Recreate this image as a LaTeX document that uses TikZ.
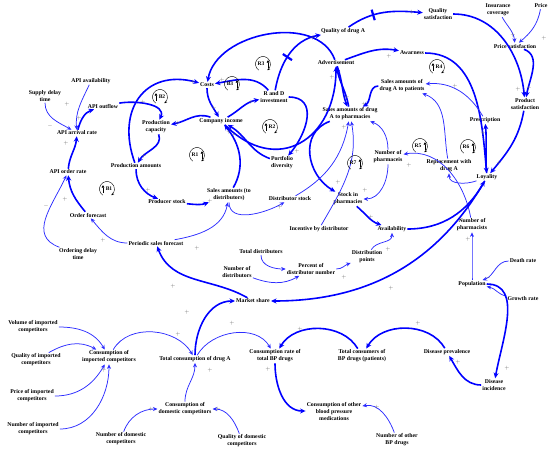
\documentclass[tikz,border=0pt]{standalone}
\usepackage{fontspec}
\setmainfont{Liberation Serif}
\usetikzlibrary{arrows.meta}
\definecolor{lnk}{RGB}{0,0,255}
\definecolor{lnkthin}{RGB}{45,45,255}
\definecolor{sgncol}{RGB}{100,100,100}

\begin{document}
\begin{tikzpicture}[x=1pt,y=1pt,
  v/.style={font=\fontsize{5.8}{7}\selectfont\bfseries,align=center,inner sep=1pt},
  thk/.style={draw=lnk,line width=1.6pt,-{Stealth[length=5.5pt,width=5pt]}},
  thn/.style={draw=lnkthin,line width=0.75pt,-{Stealth[length=4.5pt,width=4pt]}},
  sgn/.style={text=sgncol,font=\fontsize{5}{5}\selectfont,inner sep=0pt},
  lpl/.style={font=\fontsize{5.5}{6}\selectfont\bfseries,inner sep=0pt},
  dlybar/.style={fill=lnk,inner sep=0pt,minimum width=2.2pt,minimum height=11pt,sloped}]
  \useasboundingbox (0,0) rectangle (550,-451);
  % API and production (left)
  \node[v] (sdt) at (45,-96) {Supply delay\\time};
  \node[v] (apiav) at (91,-81) {API availability};
  \node[v] (apiout) at (103,-106) {API outflow};
  \node[v] (apiarr) at (77,-133) {API arrival rate};
  \node[v] (apiord) at (68,-172) {API order rate};
  \node[v] (ordfc) at (88,-215) {Order forecast};
  \node[v] (orddel) at (78,-254) {Ordering delay\\time};
  \node[v] (psf) at (156,-243) {Periodic sales forecast};
  \node[v] (prodcap) at (156,-127) {Production\\capacity};
  \node[v] (prodam) at (136,-166) {Production amounts};
  \node[v] (prodst) at (167,-202) {Producer stock};
  % company
  \node[v] (costs) at (207,-85) {Costs};
  \node[v] (income) at (221,-121) {Company income};
  \node[v] (rnd) at (274,-97) {R and D\\investment};
  \node[v] (portf) at (282,-163) {Portfolio\\diversity};
  \node[v] (salesd) at (229,-195) {Sales amounts (to\\distributors)};
  \node[v] (diststock) at (290,-199) {Distributor stock};
  % market side (top right)
  \node[v] (qual) at (343,-31) {Quality of drug A};
  \node[v] (adv) at (336,-63) {Advertisement};
  \node[v] (qsat) at (438,-14) {Quality\\satisfaction};
  \node[v] (ins) at (498,-10) {Insurance\\coverage};
  \node[v] (price) at (541,-6) {Price};
  \node[v] (psat) at (515,-46) {Price satisfaction};
  \node[v] (aware) at (412,-53) {Awarness};
  \node[v] (prodsat) at (525,-104) {Product\\satisfaction};
  \node[v] (salespat) at (402,-86) {Sales amounts of\\drug A to patients};
  \node[v] (salesph) at (350,-114) {Sales amounts of drug\\A to pharmacies};
  \node[v] (presc) at (485,-120) {Prescription};
  \node[v] (npharm) at (388,-157) {Number of\\pharmaceis};
  \node[v] (repl) at (449,-166) {Replacement with\\drug A};
  \node[v] (loyal) at (487,-177) {Loyality};
  \node[v] (stockph) at (348,-199) {Stock in\\pharmacies};
  \node[v] (incent) at (319,-229) {Incentive by distributor};
  \node[v] (avail) at (392,-229) {Availability};
  \node[v] (npharmac) at (472,-225) {Number of\\pharmacists};
  % distributors
  \node[v] (totdist) at (261,-252) {Total distributors};
  \node[v] (pctdist) at (311,-269) {Percent of\\distributor number};
  \node[v] (distpts) at (367,-257) {Distribution\\points};
  \node[v] (ndist) at (237,-272) {Number of\\distributors};
  % population
  \node[v] (death) at (523,-261) {Death rate};
  \node[v] (pop) at (472,-284) {Population};
  \node[v] (growth) at (523,-299) {Growth rate};
  \node[v] (mshare) at (253,-301) {Market share};
  % consumption (bottom)
  \node[v] (volimp) at (33,-327) {Volume of imported\\competitors};
  \node[v] (qualimp) at (36,-360) {Quality of imported\\competitors};
  \node[v] (consimp) at (109,-357) {Consumption of\\imported competitors};
  \node[v] (totcons) at (195,-359) {Total consumption of drug A};
  \node[v] (consrate) at (275,-356) {Consumption rate of\\total BP drugs};
  \node[v] (totbp) at (362,-356) {Total consumers of\\BP drugs (patients)};
  \node[v] (disprev) at (447,-352) {Disease prevalence};
  \node[v] (disinc) at (494,-385) {Disease\\incidence};
  \node[v] (priceimp) at (32,-396) {Price of imported\\competitors};
  \node[v] (numimp) at (33,-429) {Number of imported\\competitors};
  \node[v] (consdom) at (185,-409) {Consumption of\\domestic competitors};
  \node[v] (consother) at (334,-411) {Consumption of other\\blood pressure\\medications};
  \node[v] (numdom) at (121,-439) {Number of domestic\\competitors};
  \node[v] (qualdom) at (242,-441) {Quality of domestic\\competitors};
  \node[v] (numother) at (397,-440) {Number of other\\BP drugs};

  % API chain
  \draw[thn] (sdt) to[out=-90,in=150] (apiarr);
  \draw[thn] (apiav) to[out=-115,in=95] (apiarr);
  \draw[thk] (apiarr) to[out=75,in=200] (apiout);
  \draw[thk] (apiord) to[out=85,in=-95] (apiarr);
  \draw[thk] (ordfc) to[out=130,in=-85] (apiord);
  \draw[thn] (orddel) to[out=160,in=-115,looseness=1.2] (apiord);
  \draw[thn] (psf) to[out=180,in=-50] (ordfc);
  % production and company loops
  \draw[thk] (apiout) to[out=10,in=65] (prodcap);
  \draw[thk] (income) to[out=160,in=10] (prodcap);
  \draw[thk] (prodcap) to[out=-70,in=60] (prodam);
  \draw[thk] (prodam) to[out=-90,in=160] (prodst);
  \draw[thk] (prodst) to[out=-5,in=200] (salesd);
  \draw[thk] (salesd) to[out=60,in=-50] (income);
  \draw[thk] (portf) to[out=160,in=-30] (income);
  \draw[thk] (costs) to[out=-90,in=120] (income);
  \draw[thk] (rnd) to[out=130,in=10] (costs);
  \draw[thk] (income) to[out=30,in=190] (rnd);
  \draw[thk] (rnd) to[out=0,in=50,looseness=1.3] (portf);
  \draw[thk] (prodam) to[out=110,in=165,looseness=1.4] (costs);
  \draw[thk] (adv) to[out=110,in=80] (costs);
  \draw[thk] (income) to[out=-45,in=-90,looseness=1.5] (adv);
  % quality and satisfaction
  \draw[thk] (rnd) to[out=80,in=190] node[dlybar,pos=0.45] (d1) {} (qual);
  \draw[thk] (qual) to[out=35,in=175] node[dlybar,pos=0.35] (d2) {} (qsat);
  \draw[thk] (qsat) to[out=0,in=95] (prodsat);
  \draw[thn] (ins) to[out=-60,in=95] (psat);
  \draw[thn] (price) to[out=-100,in=40] (psat);
  \draw[thk] (psat) to[out=-20,in=80] (prodsat);
  \draw[thk] (adv) to[out=20,in=170] (aware);
  \draw[thk] (aware) to[out=0,in=95] (loyal);
  \draw[thk] (prodsat) to[out=-100,in=50] (loyal);
  \draw[thk] (loyal) to[out=95,in=-85] (presc);
  \draw[thn] (presc) to[out=120,in=5] (salespat);
  \draw[thn] (repl) to[out=100,in=-20] (salespat);
  % pharmacies
  \draw[thk] (salespat) to[out=180,in=30] (salesph);
  \draw[thk] (salesph) to[out=100,in=-80] (adv);
  \draw[thk] (adv) to[out=-70,in=110] (salesph);
  \draw[thk] (salesph) to[out=200,in=150,looseness=1.2] (stockph);
  \draw[thn] (diststock) to[out=30,in=-100] (salesph);
  \draw[thn] (incent) to[out=60,in=-80] (salesph);
  \draw[thn] (npharm) to[out=90,in=-20] (salesph);
  \draw[thn] (npharm) to[out=-90,in=0] (stockph);
  \draw[thn] (npharmac) to[out=100,in=10] (npharm);
  \draw[thn] (loyal) to[out=200,in=-90] (repl);
  \draw[thk] (stockph) to[out=-40,in=160] (avail);
  \draw[thn] (distpts) to[out=60,in=-90] (avail);
  \draw[thk] (avail) to[out=0,in=-120] (loyal);
  % distributors
  \draw[thn] (psf) to[out=10,in=-100] (salesd);
  \draw[thn] (salesd) to[out=-90,in=-150] (diststock);
  \draw[thn] (pctdist) to[out=0,in=200] (distpts);
  \draw[thn] (totdist) to[out=-90,in=180] (pctdist);
  \draw[thn] (ndist) to[out=-20,in=-150] (pctdist);
  % market share and population
  \draw[thk] (loyal) to[out=-120,in=0] (mshare);
  \draw[thk] (mshare) to[out=150,in=-70] (psf);
  \draw[thk] (totcons) to[out=90,in=180] (mshare);
  \draw[thn] (pop) to[out=90,in=-90] (npharmac);
  \draw[thn] (death) to[out=180,in=20] (pop);
  \draw[thn] (growth) to[out=170,in=-10] (pop);
  \draw[thk] (pop) to[out=0,in=80] (disinc);
  \draw[thk] (disinc) to[out=180,in=-60] (disprev);
  \draw[thk] (disprev) to[out=120,in=60] (totbp);
  \draw[thk] (totbp) to[out=120,in=60] (consrate);
  \draw[thn] (totcons) to[out=60,in=120] (consrate);
  \draw[thk] (consrate) to[out=-90,in=180] (consother);
  \draw[thn] (numother) to[out=110,in=10] (consother);
  % competitors
  \draw[thn] (consimp) to[out=60,in=120] (totcons);
  \draw[thn] (consdom) to[out=90,in=-90] (totcons);
  \draw[thn] (volimp) to[out=0,in=120] (consimp);
  \draw[thn] (qualimp) to[out=30,in=150] (consimp);
  \draw[thn] (priceimp) to[out=0,in=-120] (consimp);
  \draw[thn] (numimp) to[out=0,in=-90] (consimp);
  \draw[thn] (numdom) to[out=70,in=180] (consdom);
  \draw[thn] (qualdom) to[out=110,in=0] (consdom);

  % loop markers
  \foreach \x/\y/\l/\tx/\ax in {160/-97/B2/2/-4,232/-84/B3/-2/5,263/-64/R3/-2/5,270/-127/R2/2/-4,
      197/-155/R1/-2/5,107/-189/B1/2/-4,437/-67/R4/2/-4,420/-146/R5/-2/5,468/-147/R6/-2/5,355/-163/R7/-2/5}{
    \draw[black,line width=0.4pt,-{Stealth[length=2.5pt,width=2.5pt]}]
      (\x,\y) ++(235:7.5) arc[start angle=235,end angle=-55,radius=7.5];
    \node[lpl] (loop\l) at (\x+\tx,\y) {\l};
    \draw[black,line width=0.7pt,-{Triangle[length=2.5pt,width=2.8pt]}] (\x+\ax,\y-3.5) -- (\x+\ax,\y+3.8);
  }

  % polarities
  \foreach \x/\y/\s [count=\i] in {67/104/+,50/126/-,79/118/+,66/143/+,143/102/+,193/82/+,178/123/+,
      144/156/+,46/206/-,65/199/+,148/190/+,103/240/+,197/248/+,173/286/+,222/80/+,214/108/+,251/102/+,
      229/132/+,234/135/+,313/38/+,332/77/+,347/97/+,344/127/+,412/12/+,513/35/+,544/38/+,389/56/+,
      455/86/+,518/89/+,529/88/+,364/104/+,483/133/+,297/151/+,210/201/+,280/207/+,338/182/+,365/190/+,
      371/217/+,409/165/+,388/249/+,468/239/+,391/288/+,488/278/-,499/163/+,187/312/+,178/334/+,
      104/370/+,151/409/+,232/323/+,300/329/+,210/370/+,218/409/+,268/369/+,377/407/+,418/323/+,
      458/362/+,507/368/+,344/277/+}
    \node[sgn] (s\i) at (\x,-\y) {$\s$};
\end{tikzpicture}
\end{document}
